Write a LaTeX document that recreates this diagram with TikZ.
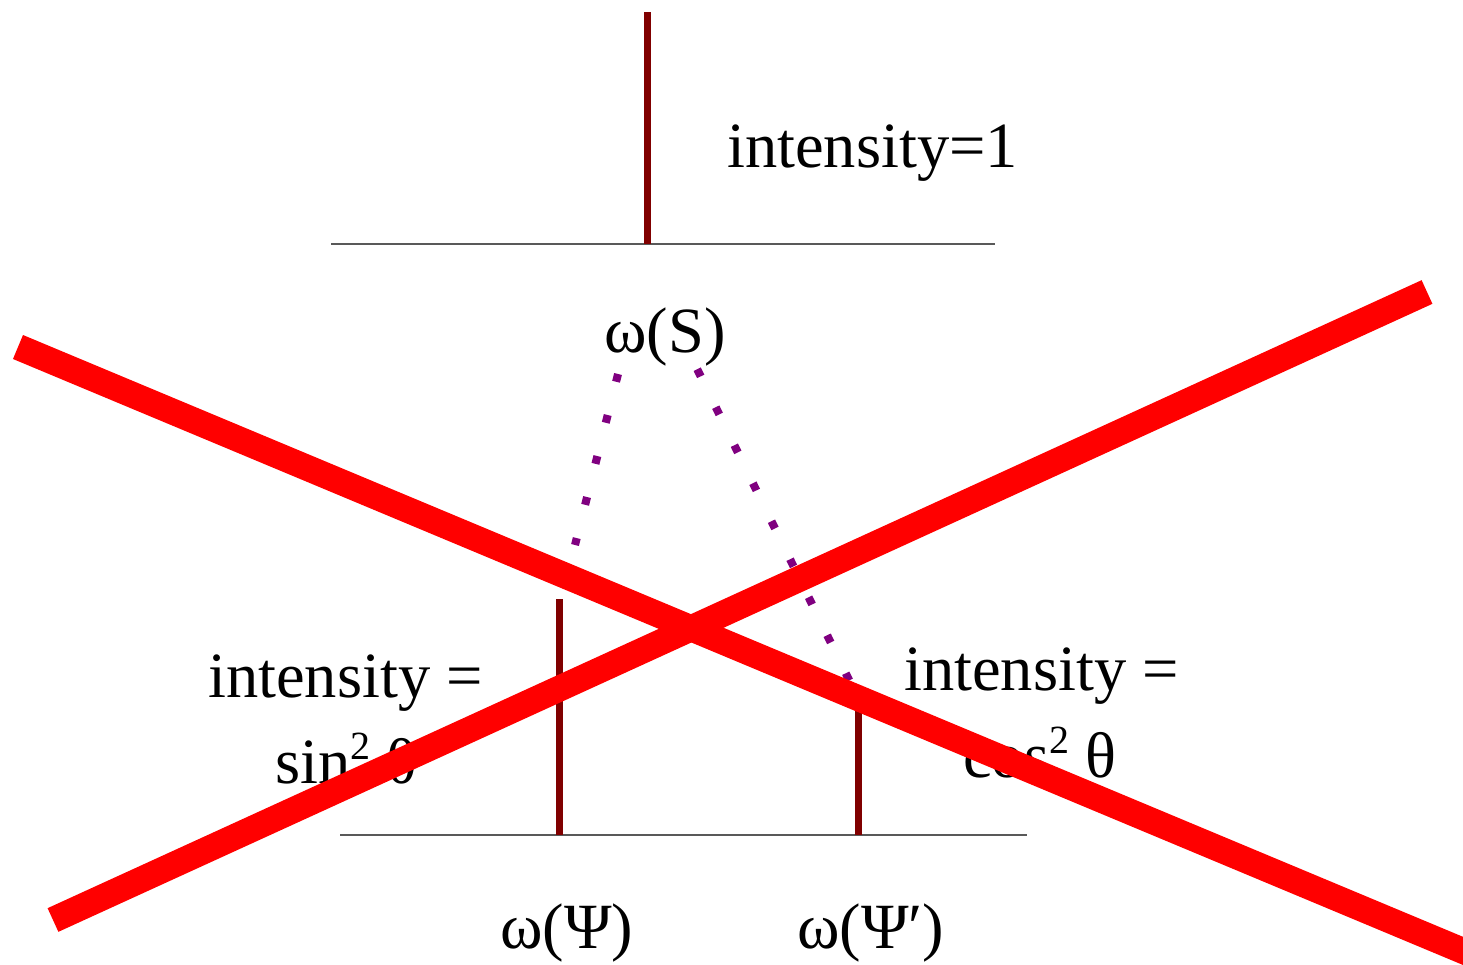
\documentclass[tikz,border=0pt]{standalone}
\usepackage{fontspec}
\setmainfont{Liberation Serif}
\newcommand{\supsq}{{\fontsize{40}{40}\selectfont\raisebox{24pt}{2}}}
\begin{document}
\begin{tikzpicture}[x=1pt,y=-1pt,
  lbl/.style={inner sep=0pt, font=\fontsize{64.5}{77}\selectfont, text=black},
  axis/.style={draw=black!65, line width=1.6pt},
  spike/.style={draw=red!50!black, line width=7pt},
  dotline/.style={draw={rgb,255:red,128;green,0;blue,128}, line width=8pt, dash pattern=on 8pt off 34.3pt},
  cross/.style={draw={rgb,255:red,255;green,0;blue,0}, line width=26pt, line cap=butt}]
\useasboundingbox (0,0) rectangle (1463,965);
% top spectrum
\coordinate (a1) at (331,244);
\coordinate (a2) at (995,244);
\coordinate (s0) at (647,244);
\coordinate (s1) at (647,12);
\draw[axis] (a1) -- (a2);
\draw[spike] (s0) -- (s1);
\node[lbl, anchor=base west] (int1) at (727,168) {intensity=1};
\node[lbl, anchor=base] (wS) at (665,352) {ω(S)};
% bottom spectrum
\coordinate (b1) at (340,835);
\coordinate (b2) at (1027,835);
\coordinate (p0) at (559,835);
\coordinate (p1) at (559,599);
\coordinate (q0) at (858,835);
\coordinate (q1) at (858,700);
\draw[axis] (b1) -- (b2);
\draw[spike] (p0) -- (p1);
\draw[spike] (q0) -- (q1);
% dotted links
\coordinate (dl0) at (618,374);
\coordinate (dl1) at (575,545);
\coordinate (dr0) at (697.2,369.2);
\coordinate (dr1) at (850,682);
\draw[dotline] (dl0) -- (dl1);
\draw[dotline] (dr0) -- (dr1);
% labels
\node[lbl, anchor=base west] (intL) at (208,697) {intensity =};
\node[lbl, anchor=base west] (sinL) at (275,783) {sin\supsq\ θ};
\node[lbl, anchor=base west] (intR) at (904,690) {intensity =};
\node[lbl, anchor=base west] (cosR) at (963,777) {cos\supsq\ θ};
\node[lbl, anchor=base west] (wP) at (500,948) {ω(Ψ)};
\node[lbl, anchor=base west] (wPp) at (797,948) {ω(Ψ′)};
% red cross
\coordinate (x1a) at (18,347);
\coordinate (x1b) at (1480,958);
\coordinate (x2a) at (53,920);
\coordinate (x2b) at (1427,292);
\draw[cross] (x1a) -- (x1b);
\draw[cross] (x2a) -- (x2b);
\end{tikzpicture}
\end{document}
